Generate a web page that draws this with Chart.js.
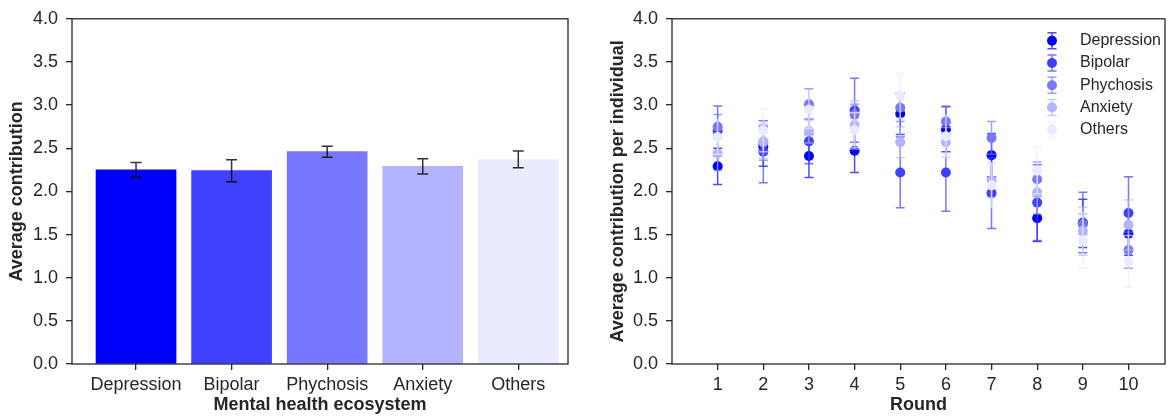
<!DOCTYPE html>
<html>
<head>
<meta charset="utf-8">
<script src="https://cdn.jsdelivr.net/npm/chart.js@4.4.0/dist/chart.umd.min.js"></script>
<style>
body{margin:0;background:#fff;}
#wrap{position:relative;width:1170px;height:416px;}
canvas{position:absolute;top:0;}
#bars{left:0;}
#rounds{left:585px;}
</style>
</head>
<body>
<div id="wrap">
<canvas id="bars" width="585" height="416"></canvas>
<canvas id="rounds" width="585" height="416"></canvas>
</div>
<script>
// data
const categories = ['Depression', 'Bipolar', 'Phychosis', 'Anxiety', 'Others'];
const colors = ['#0000ff', '#4040ff', '#7878ff', '#b3b3ff', '#ebebff'];
const barMeans = [2.25, 2.24, 2.46, 2.29, 2.37];
const barErrors = [0.085, 0.128, 0.064, 0.087, 0.097];

const rounds = [1, 2, 3, 4, 5, 6, 7, 8, 9, 10];
const yTicks = [0, 0.5, 1, 1.5, 2, 2.5, 3, 3.5, 4];

const depression    = [2.29, 2.52, 2.41, 2.47, 2.90, 2.72, 2.42, 1.69, 1.63, 1.51];
const depressionErr = [0.21, 0.23, 0.25, 0.25, 0.24, 0.26, 0.25, 0.27, 0.28, 0.25];
const bipolar       = [2.70, 2.46, 2.58, 2.94, 2.22, 2.22, 1.98, 1.87, 1.64, 1.75];
const bipolarErr    = [0.29, 0.36, 0.26, 0.37, 0.41, 0.45, 0.41, 0.44, 0.35, 0.42];
const phychosis     = [2.75, 2.56, 3.01, 2.89, 2.97, 2.81, 2.62, 2.14, 1.62, 1.32];
const phychosisErr  = [0.14, 0.20, 0.18, 0.12, 0.16, 0.18, 0.19, 0.20, 0.12, 0.21];
const anxiety       = [2.44, 2.58, 2.70, 2.77, 2.57, 2.57, 2.13, 1.99, 1.54, 1.61];
const anxietyErr    = [0.20, 0.20, 0.14, 0.28, 0.18, 0.17, 0.20, 0.25, 0.28, 0.29];
const others        = [2.63, 2.71, 2.95, 2.71, 3.11, 2.64, 2.07, 2.24, 1.43, 1.19];
const othersErr     = [0.20, 0.25, 0.22, 0.20, 0.26, 0.24, 0.26, 0.27, 0.32, 0.30];

const seriesValues = [depression, bipolar, phychosis, anxiety, others];
const seriesErrors = [depressionErr, bipolarErr, phychosisErr, anxietyErr, othersErr];

const ink = '#262626';
const fontFamily = '"Liberation Sans", Arial, sans-serif';

function alpha(hex, a) {
  const n = parseInt(hex.slice(1), 16);
  return `rgba(${n >> 16},${(n >> 8) & 255},${n & 255},${a})`;
}

// box round the plot area
const frame = {
  id: 'frame',
  afterDraw(chart) {
    const {ctx, chartArea: a} = chart;
    ctx.save();
    ctx.strokeStyle = ink;
    ctx.lineWidth = 1.3;
    ctx.strokeRect(a.left, a.top, a.right - a.left, a.bottom - a.top);
    ctx.restore();
  }
};

function drawErrorBar(ctx, px, top, bot, half) {
  ctx.beginPath();
  ctx.moveTo(px, top); ctx.lineTo(px, bot);
  ctx.moveTo(px - half, top); ctx.lineTo(px + half, top);
  ctx.moveTo(px - half, bot); ctx.lineTo(px + half, bot);
  ctx.stroke();
}

const barErrorBars = {
  id: 'barErrorBars',
  afterDatasetsDraw(chart) {
    const {ctx, scales: {x, y}} = chart;
    ctx.save();
    ctx.strokeStyle = 'rgba(0,0,0,0.8)';
    ctx.lineWidth = 1.5;
    barMeans.forEach((m, i) => {
      drawErrorBar(ctx, x.getPixelForValue(i),
        y.getPixelForValue(m + barErrors[i]), y.getPixelForValue(m - barErrors[i]), 5.5);
    });
    ctx.restore();
  }
};

// error bars drawn just before each series so later series sit on top
const pointErrorBars = {
  id: 'pointErrorBars',
  beforeDatasetDraw(chart, args) {
    const ds = chart.data.datasets[args.index];
    const {ctx, scales: {x, y}} = chart;
    ctx.save();
    ctx.strokeStyle = alpha(ds.baseColor, 0.7);
    ctx.lineWidth = 1.5;
    ds.data.forEach((p, j) => {
      const e = ds.errors[j];
      drawErrorBar(ctx, x.getPixelForValue(p.x), y.getPixelForValue(p.y + e), y.getPixelForValue(p.y - e), 4.5);
    });
    ctx.restore();
  }
};

const roundLegend = {
  id: 'roundLegend',
  afterDraw(chart) {
    const {ctx, chartArea: a} = chart;
    ctx.save();
    ctx.font = `16px ${fontFamily}`;
    ctx.textBaseline = 'middle';
    chart.data.datasets.forEach((ds, i) => {
      const cy = a.top + 22 + 22.2 * i;
      const cx = a.right - 113;
      ctx.strokeStyle = alpha(ds.baseColor, 0.7);
      ctx.lineWidth = 1.5;
      drawErrorBar(ctx, cx, cy - 8, cy + 8, 4.5);
      ctx.fillStyle = ds.baseColor;
      ctx.beginPath(); ctx.arc(cx, cy, 5, 0, Math.PI * 2); ctx.fill();
      ctx.fillStyle = ink;
      ctx.fillText(ds.label, a.right - 85, cy);
    });
    ctx.restore();
  }
};

const tickFont = {family: fontFamily, size: 18};
const titleFont = {family: fontFamily, size: 18, weight: 'bold'};
const tickGrid = {drawOnChartArea: false, drawTicks: true, tickLength: 6, color: ink, lineWidth: 1.3, offset: false};

function yAxis(title, width, titlePad) {
  return {
    min: 0, max: 4,
    afterBuildTicks: s => { s.ticks = yTicks.map(v => ({value: v})); },
    afterFit: s => { s.width = width; },
    ticks: {font: tickFont, color: ink, padding: 8, callback: v => v.toFixed(1)},
    grid: tickGrid,
    border: {display: false},
    title: {display: true, text: title, font: titleFont, color: ink, padding: {top: titlePad, bottom: 0}}
  };
}

function xAxis(title, min, max, values, label) {
  return {
    type: 'linear', min: min, max: max, offset: false,
    afterBuildTicks: s => { s.ticks = values.map(v => ({value: v})); },
    afterFit: s => { s.height = 52; },
    ticks: {font: tickFont, color: ink, padding: 4, maxRotation: 0, autoSkip: false, callback: label},
    grid: tickGrid,
    border: {display: false},
    title: {display: true, text: title, font: titleFont, color: ink, padding: 0}
  };
}

new Chart(document.getElementById('bars'), {
  type: 'bar',
  data: {
    datasets: [{
      data: barMeans.map((v, i) => ({x: i, y: v})),
      backgroundColor: colors,
      barThickness: 80
    }]
  },
  options: {
    responsive: false,
    animation: false,
    layout: {padding: {top: 18, right: 17, left: 0, bottom: 0}},
    plugins: {legend: {display: false}, tooltip: {enabled: false}},
    scales: {
      x: xAxis('Mental health ecosystem', -0.67, 4.52, categories.map((c, i) => i), v => categories[v]),
      y: yAxis('Average contribution', 72, 6)
    }
  },
  plugins: [barErrorBars, frame]
});

new Chart(document.getElementById('rounds'), {
  type: 'scatter',
  data: {
    datasets: categories.map((c, i) => ({
      label: c,
      data: rounds.map((r, j) => ({x: r, y: seriesValues[i][j]})),
      errors: seriesErrors[i],
      baseColor: colors[i],
      backgroundColor: colors[i],
      borderWidth: 0,
      pointRadius: 5,
      order: categories.length - i
    }))
  },
  options: {
    responsive: false,
    animation: false,
    layout: {padding: {top: 18, right: 2, left: 0, bottom: 0}},
    plugins: {legend: {display: false}, tooltip: {enabled: false}},
    scales: {
      x: xAxis('Round', 0, 10.8, rounds, v => String(v)),
      y: yAxis('Average contribution per individual', 87, 22)
    }
  },
  plugins: [pointErrorBars, roundLegend, frame]
});
</script>
</body>
</html>
